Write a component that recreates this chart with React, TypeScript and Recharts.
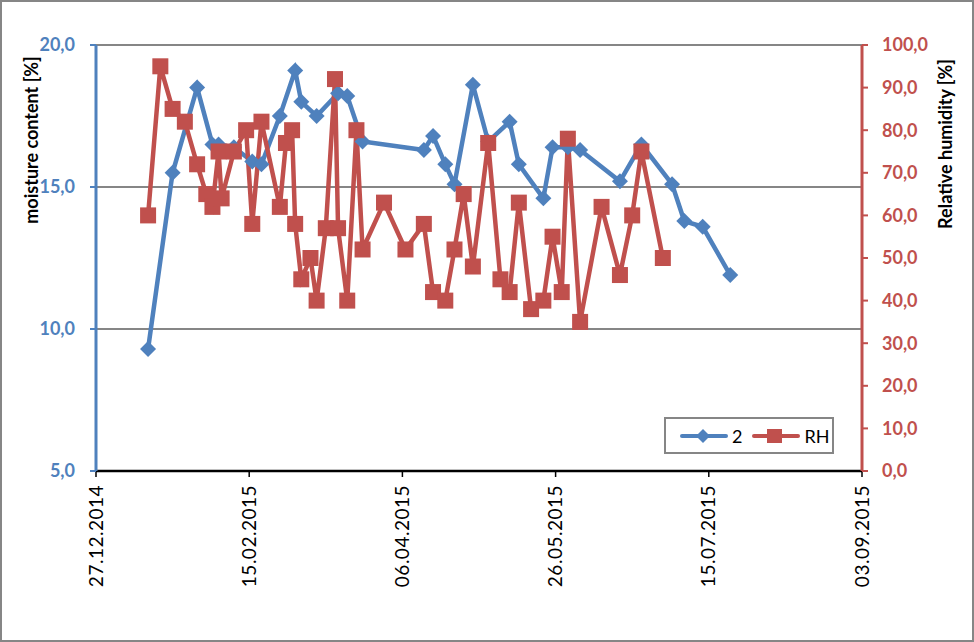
import { LineChart, Line, XAxis, YAxis, CartesianGrid, Legend } from 'recharts';

// dates dd.mm.yyyy
const moistureDates = [
    '13.01.2015', '21.01.2015', '29.01.2015', '03.02.2015', '05.02.2015', '10.02.2015',
    '16.02.2015', '19.02.2015', '25.02.2015', '02.03.2015', '04.03.2015', '09.03.2015',
    '16.03.2015', '19.03.2015', '24.03.2015', '13.04.2015', '16.04.2015', '20.04.2015',
    '23.04.2015', '29.04.2015', '04.05.2015', '11.05.2015', '14.05.2015', '22.05.2015',
    '25.05.2015', '30.05.2015', '03.06.2015', '16.06.2015', '23.06.2015', '03.07.2015',
    '07.07.2015', '13.07.2015', '22.07.2015',
];
const moistureValues = [
    9.3, 15.5, 18.5, 16.5, 16.5, 16.4,
    15.9, 15.8, 17.5, 19.1, 18.0, 17.5,
    18.3, 18.2, 16.6, 16.3, 16.8, 15.8,
    15.1, 18.6, 16.6, 17.3, 15.8, 14.6,
    16.4, 16.4, 16.3, 15.2, 16.5, 15.1,
    13.8, 13.6, 11.9,
];

const rhDates = [
    '13.01.2015', '17.01.2015', '21.01.2015', '25.01.2015', '29.01.2015', '01.02.2015',
    '03.02.2015', '05.02.2015', '06.02.2015', '10.02.2015', '14.02.2015', '16.02.2015',
    '19.02.2015', '25.02.2015', '27.02.2015', '01.03.2015', '02.03.2015', '04.03.2015',
    '07.03.2015', '09.03.2015', '12.03.2015', '15.03.2015', '16.03.2015', '19.03.2015',
    '22.03.2015', '24.03.2015', '31.03.2015', '07.04.2015', '13.04.2015', '16.04.2015',
    '20.04.2015', '23.04.2015', '26.04.2015', '29.04.2015', '04.05.2015', '08.05.2015',
    '11.05.2015', '14.05.2015', '18.05.2015', '22.05.2015', '25.05.2015', '28.05.2015',
    '30.05.2015', '03.06.2015', '10.06.2015', '16.06.2015', '20.06.2015', '23.06.2015',
    '30.06.2015',
];
const rhValues = [
    60, 95, 85, 82, 72, 65,
    62, 75, 64, 75, 80, 58,
    82, 62, 77, 80, 58, 45,
    50, 40, 57, 92, 57, 40,
    80, 52, 63, 52, 58, 42,
    40, 52, 65, 48, 77, 45,
    42, 63, 38, 40, 55, 42,
    78, 35, 62, 46, 60, 75,
    50,
];

const dateTicks = ['27.12.2014', '15.02.2015', '06.04.2015', '26.05.2015', '15.07.2015', '03.09.2015'];
const moistureTicks = [5, 10, 15, 20];
const rhTicks = [0, 10, 20, 30, 40, 50, 60, 70, 80, 90, 100];

const BLUE = '#4F81BD';
const RED = '#C0504D';
const GRID = '#868686';
const FONT = 'Lato, "Open Sans", sans-serif';

const toTime = (s: string) => {
    const [d, m, y] = s.split('.').map(Number);
    return Date.UTC(y, m - 1, d);
};
const fromTime = (t: number) => {
    const dt = new Date(t);
    const p = (n: number) => (n < 10 ? '0' + n : '' + n);
    return p(dt.getUTCDate()) + '.' + p(dt.getUTCMonth() + 1) + '.' + dt.getUTCFullYear();
};
const comma = (v: number) => v.toFixed(1).replace('.', ',');

const moistureData = moistureDates.map((d, i) => ({ t: toTime(d), mc: moistureValues[i] }));
const rhData = rhDates.map((d, i) => ({ t: toTime(d), rh: rhValues[i] }));

const DateTick = (props: any) => {
    const { x, y, payload } = props;
    return (
        <text x={x} y={y} dy="0.35em" transform={`rotate(-90 ${x} ${y})`} textAnchor="end"
            fill="#000" fontSize={19} fontFamily={FONT} letterSpacing={0.5}>
            {fromTime(payload.value)}
        </text>
    );
};

const Diamond = (props: any) => {
    const { cx, cy, index } = props;
    if (cx == null || cy == null) return <g key={'d' + index} />;
    return <path key={'d' + index} d={`M${cx},${cy - 8}L${cx + 8},${cy}L${cx},${cy + 8}L${cx - 8},${cy}Z`} fill={BLUE} />;
};

const Square = (props: any) => {
    const { cx, cy, index } = props;
    if (cx == null || cy == null) return <g key={'s' + index} />;
    return <rect key={'s' + index} x={cx - 8} y={cy - 8} width={16} height={16} fill={RED} />;
};

const AxisTitle = (x: number, y: number, text: string) => () => (
    <text x={x} y={y} transform={`rotate(-90 ${x} ${y})`} textAnchor="middle" dy="0.35em"
        fontWeight="bold" fontSize={18} fontFamily={FONT} fill="#000">
        {text}
    </text>
);

const LegendBox = () => (
    <div style={{
        width: 170, height: 37, border: `2px solid ${GRID}`, boxSizing: 'border-box', background: '#fff',
        display: 'flex', alignItems: 'center', fontFamily: FONT, fontSize: 18, color: '#000',
    }}>
        <svg width={50} height={20} style={{ marginLeft: 14 }}>
            <line x1={2} y1={10} x2={46} y2={10} stroke={BLUE} strokeWidth={4} strokeLinecap="round" />
            <path d="M23,3L30,10L23,17L16,10Z" fill={BLUE} />
        </svg>
        <span style={{ marginLeft: 2 }}>2</span>
        <svg width={50} height={20} style={{ marginLeft: 10 }}>
            <line x1={2} y1={10} x2={46} y2={10} stroke={RED} strokeWidth={4} strokeLinecap="round" />
            <rect x={15} y={3} width={15} height={14} fill={RED} />
        </svg>
        <span style={{ marginLeft: 2 }}>RH</span>
    </div>
);

export default function App() {
    return (
        <div style={{ position: 'absolute', left: 0, top: 0, width: 974, height: 642, background: '#fff', fontFamily: FONT }}>
            <LineChart width={974} height={642} margin={{ top: 45, right: 0, bottom: 0, left: 0 }}>
                <CartesianGrid yAxisId="left" vertical={false} stroke={GRID} strokeWidth={2} />
                <XAxis
                    dataKey="t"
                    type="number"
                    domain={[toTime(dateTicks[0]), toTime(dateTicks[dateTicks.length - 1])]}
                    ticks={dateTicks.map(toTime)}
                    height={171}
                    tick={<DateTick />}
                    tickSize={6}
                    tickMargin={8}
                    axisLine={{ stroke: '#000', strokeWidth: 2.5 }}
                    tickLine={{ stroke: '#000', strokeWidth: 1.5 }}
                    allowDataOverflow
                />
                <YAxis
                    yAxisId="left"
                    orientation="left"
                    width={96}
                    domain={[5, 20]}
                    ticks={moistureTicks}
                    tickFormatter={comma}
                    tick={{ fill: BLUE, fontSize: 18, fontWeight: 'bold', fontFamily: FONT }}
                    tickSize={6}
                    tickMargin={15}
                    axisLine={{ stroke: BLUE, strokeWidth: 3 }}
                    tickLine={{ stroke: BLUE, strokeWidth: 2 }}
                    label={AxisTitle(32, 140, 'moisture content [%]')}
                />
                <YAxis
                    yAxisId="right"
                    orientation="right"
                    width={112}
                    domain={[0, 100]}
                    ticks={rhTicks}
                    tickFormatter={comma}
                    tick={{ fill: RED, fontSize: 18, fontWeight: 'bold', fontFamily: FONT }}
                    tickSize={6}
                    tickMargin={14}
                    axisLine={{ stroke: RED, strokeWidth: 3 }}
                    tickLine={{ stroke: RED, strokeWidth: 2 }}
                    label={AxisTitle(946, 144, 'Relative humidity [%]')}
                />
                <Legend
                    layout="vertical"
                    align="center"
                    verticalAlign="middle"
                    content={<LegendBox />}
                    wrapperStyle={{ position: 'absolute', left: 664, top: 417, width: 170, height: 37 }}
                />
                <Line
                    yAxisId="left"
                    data={moistureData}
                    dataKey="mc"
                    name="2"
                    stroke={BLUE}
                    strokeWidth={4.5}
                    dot={Diamond}
                    activeDot={false}
                    isAnimationActive={false}
                />
                <Line
                    yAxisId="right"
                    data={rhData}
                    dataKey="rh"
                    name="RH"
                    stroke={RED}
                    strokeWidth={4.5}
                    dot={Square}
                    activeDot={false}
                    isAnimationActive={false}
                />
            </LineChart>
            <div style={{
                position: 'absolute', left: 0, top: 0, width: 974, height: 642,
                border: `2px solid ${GRID}`, boxSizing: 'border-box', pointerEvents: 'none',
            }} />
        </div>
    );
}
